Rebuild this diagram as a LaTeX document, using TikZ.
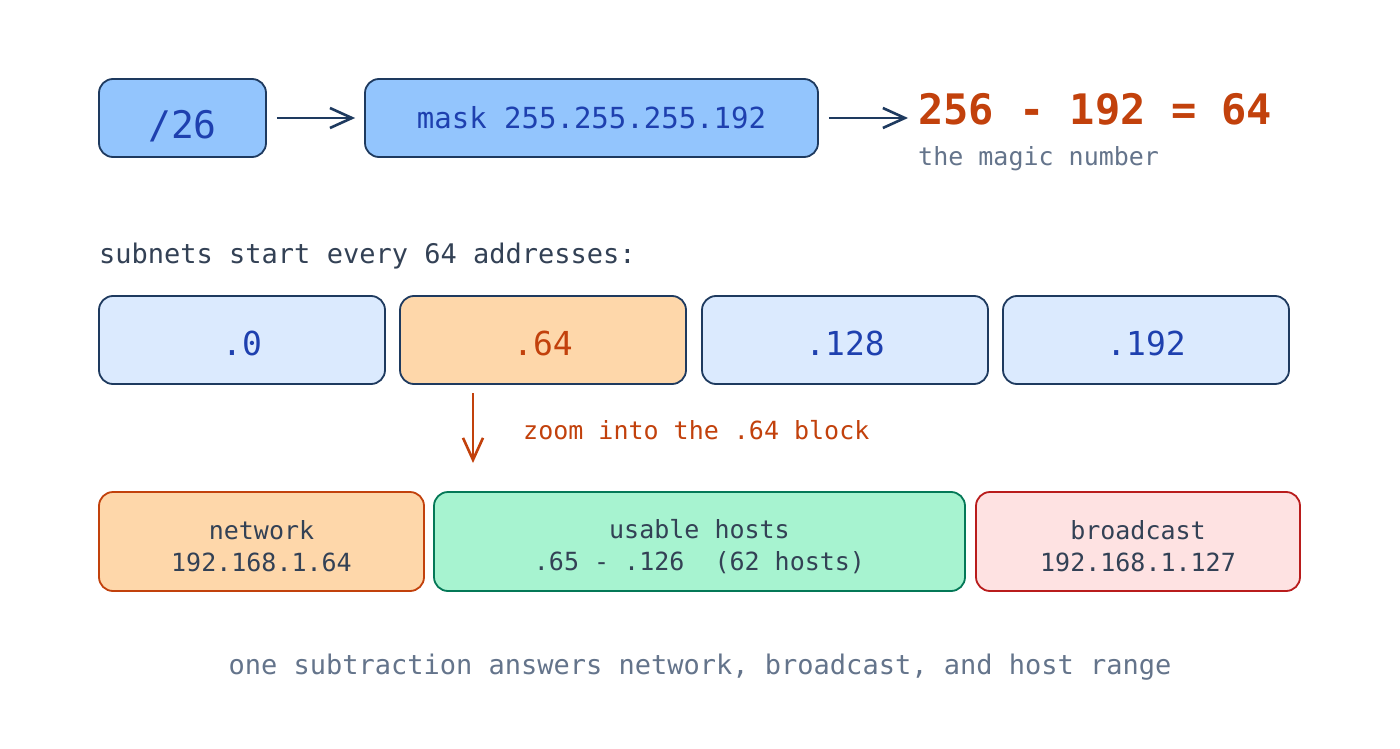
\documentclass[tikz,border=0pt]{standalone}
\usepackage{fontspec}
\setmonofont{DejaVu Sans Mono}
\usetikzlibrary{arrows.meta,calc}
\definecolor{navy}{HTML}{1E3A5F}
\definecolor{blueA}{HTML}{93C5FD}
\definecolor{blueB}{HTML}{DBEAFE}
\definecolor{blueT}{HTML}{1E40AF}
\definecolor{orangeF}{HTML}{FED7AA}
\definecolor{orangeT}{HTML}{C2410C}
\definecolor{greenF}{HTML}{A7F3D0}
\definecolor{greenD}{HTML}{047857}
\definecolor{redF}{HTML}{FEE2E2}
\definecolor{redD}{HTML}{B91C1C}
\definecolor{slateD}{HTML}{334155}
\definecolor{slateM}{HTML}{64748B}
\newcommand\lowr[2]{\raisebox{-#1}[\height][\depth]{#2}}
\tikzset{
  box/.style={draw=navy, line width=1.8pt, rounded corners=14pt, inner sep=0pt, align=center},
  topbox/.style={box, fill=blueA, text=blueT, minimum height=78pt},
  rowbox/.style={box, fill=blueB, text=blueT, minimum width=286pt, minimum height=88pt, font=\ttfamily\fontsize{33}{38}\selectfont},
  partbox/.style={box, minimum height=99pt, text=slateD, font=\ttfamily\fontsize{25}{32}\selectfont},
  barb/.tip={Straight Barb[length=22pt,width=20pt,line width=2.6pt]},
  arr/.style={draw=navy, line width=2.6pt, -barb},
  zarr/.style={draw=orangeT, line width=2.6pt, -barb}
}
\begin{document}
\begin{tikzpicture}[x=1pt,y=-1pt]
\useasboundingbox[fill=white] (0,0) rectangle (1400,749);
\node[topbox, minimum width=167pt, font=\ttfamily\fontsize{38}{44}\selectfont] (n26) at (182.5,118) {\lowr{8pt}{/26}};
\node[topbox, minimum width=453pt, font=\ttfamily\fontsize{29}{34}\selectfont] (mask) at (591.5,118) {mask 255.255.255.192};
\node[anchor=base west, inner sep=0pt, text=orangeT, font=\ttfamily\bfseries\fontsize{42}{48}\selectfont] (eq) at (918,125) {256 - 192 = 64};
\node[anchor=base west, inner sep=0pt, text=slateM, font=\ttfamily\fontsize{25}{30}\selectfont] (magic) at (918,165) {the magic number};
\draw[arr] ($(n26.east)+(10,0)$) -- ($(mask.west)+(-9,0)$);
\draw[arr] ($(mask.east)+(10,0)$) -- ($(eq.west |- mask.east)+(-10,0)$);
\node[anchor=base west, inner sep=0pt, text=slateD, font=\ttfamily\fontsize{27}{32}\selectfont] (sub) at (99,263) {subnets start every 64 addresses:};
\node[rowbox] (b0) at (242,340) {\lowr{3pt}{.0}};
\node[rowbox, fill=orangeF, text=orangeT] (b64) at (543,340) {\lowr{3pt}{.64}};
\node[rowbox] (b128) at (845,340) {\lowr{3pt}{.128}};
\node[rowbox] (b192) at (1146,340) {\lowr{3pt}{.192}};
\coordinate (za) at (473,393);
\coordinate (zb) at (473,463);
\draw[zarr] (za) -- (zb);
\node[anchor=west, inner sep=0pt, text=orangeT, font=\ttfamily\fontsize{25}{30}\selectfont] (zt) at (523,430) {zoom into the .64 block};
\node[partbox, fill=orangeF, draw=orangeT, minimum width=325pt] (net) at (261.5,541.5) {\lowr{5pt}{network}\\\lowr{5pt}{192.168.1.64}};
\node[partbox, fill=greenF, draw=greenD, minimum width=531pt] (use) at (699.5,541.5) {\lowr{5pt}{usable hosts}\\\lowr{5pt}{.65 - .126~~(62 hosts)}};
\node[partbox, fill=redF, draw=redD, minimum width=324pt] (bc) at (1138,541.5) {\lowr{5pt}{broadcast}\\\lowr{5pt}{192.168.1.127}};
\node[inner sep=0pt, text=slateM, font=\ttfamily\fontsize{27}{32}\selectfont] (foot) at (700,667) {one subtraction answers network, broadcast, and host range};
\end{tikzpicture}
\end{document}
